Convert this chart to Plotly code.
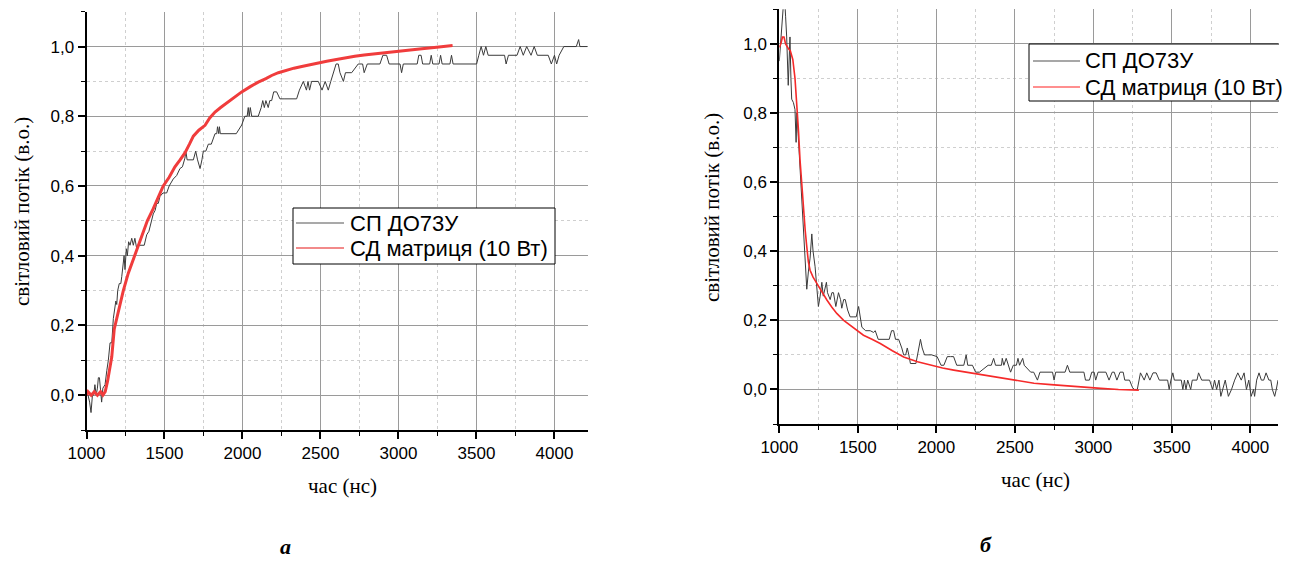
import plotly.graph_objects as go

# ---------------- data ----------------
# panel а : rise
a_sp_x = [1000,1010,1020,1029,1038,1046,1054,1062,1070,1076,1083,1090,1097,1105,1119,1130,1140,1151,1162,1172,1180,1188,1194,1200,1210,1220,1226,1235,1241,1247,1255,1262,1270,1279,1290,1300,1310,1322,1340,1370,1386,1400,1415,1428,1440,1450,1460,1471,1490,1514,1530,1556,1578,1599,1615,1631,1637,1645,1685,1700,1712,1728,1740,1749,1765,1781,1800,1824,1835,1840,1848,1852,1858,1888,1920,1960,1995,2015,2030,2037,2043,2050,2059,2101,2120,2130,2140,2150,2165,2175,2187,2200,2219,2240,2272,2347,2365,2390,2410,2420,2430,2443,2486,2510,2530,2550,2566,2582,2600,2614,2625,2647,2660,2700,2742,2770,2780,2800,2881,2900,2924,2940,3010,3020,3031,3120,3130,3145,3155,3200,3210,3220,3260,3270,3280,3330,3340,3350,3501,3515,3530,3545,3560,3575,3630,3680,3690,3705,3760,3780,3800,3822,3850,3870,3890,3960,3980,4000,4014,4030,4060,4140,4155,4163,4210]
a_sp_y = [0.00,0.00,-0.02,-0.05,0.00,0.00,0.03,0.00,0.02,0.05,0.05,0.00,-0.02,0.02,0.03,0.07,0.10,0.15,0.15,0.22,0.25,0.27,0.26,0.30,0.32,0.32,0.34,0.37,0.40,0.36,0.42,0.40,0.44,0.43,0.45,0.43,0.45,0.42,0.43,0.43,0.46,0.47,0.50,0.52,0.53,0.55,0.55,0.57,0.58,0.58,0.60,0.62,0.63,0.65,0.655,0.68,0.70,0.675,0.675,0.70,0.675,0.65,0.675,0.70,0.70,0.72,0.72,0.75,0.75,0.77,0.75,0.77,0.75,0.75,0.75,0.75,0.775,0.80,0.80,0.825,0.80,0.825,0.80,0.80,0.825,0.845,0.825,0.845,0.825,0.845,0.845,0.87,0.87,0.85,0.85,0.85,0.875,0.90,0.875,0.90,0.875,0.90,0.90,0.875,0.90,0.875,0.90,0.925,0.95,0.95,0.925,0.90,0.925,0.925,0.95,0.95,0.925,0.95,0.95,0.975,0.975,0.95,0.95,0.925,0.95,0.95,0.975,0.975,0.95,0.95,0.975,0.95,0.95,0.975,0.95,0.95,0.975,0.95,0.95,0.975,1.00,0.975,1.00,0.975,0.975,0.975,0.95,0.975,0.975,1.00,0.975,1.00,0.975,1.00,0.975,0.975,0.95,0.975,0.95,0.975,1.00,1.00,1.02,1.00,1.00]

a_sd_x = [1000,1010,1030,1050,1070,1090,1105,1120,1135,1150,1162,1178,1194,1215,1236,1268,1300,1340,1390,1428,1460,1492,1530,1567,1600,1631,1660,1685,1720,1760,1790,1824,1860,1909,1950,1995,2050,2101,2150,2187,2230,2272,2330,2380,2430,2486,2540,2593,2657,2720,2780,2838,2900,2960,3053,3150,3245,3347]
a_sd_y = [0.0,0.01,0.0,0.01,0.0,0.01,0.0,0.01,0.04,0.08,0.11,0.19,0.22,0.26,0.30,0.35,0.39,0.44,0.50,0.535,0.565,0.60,0.625,0.655,0.675,0.695,0.72,0.743,0.76,0.774,0.795,0.812,0.825,0.841,0.856,0.87,0.885,0.898,0.908,0.917,0.925,0.931,0.938,0.943,0.948,0.953,0.958,0.962,0.968,0.972,0.976,0.979,0.983,0.986,0.99,0.994,0.998,1.003]

# panel б : decay
b_sp_x = [1000,1008,1015,1025,1032,1040,1047,1057,1063,1068,1074,1079,1090,1100,1107,1112,1120,1132,1143,1153,1165,1175,1185,1196,1207,1215,1228,1240,1249,1260,1271,1280,1292,1300,1307,1324,1335,1345,1360,1377,1390,1398,1410,1420,1435,1451,1470,1490,1505,1515,1526,1550,1579,1600,1611,1630,1660,1700,1715,1728,1740,1760,1780,1792,1805,1815,1825,1835,1870,1890,1899,1910,1925,1941,1970,2005,2030,2048,2070,2090,2110,2130,2160,2175,2190,2200,2230,2250,2275,2300,2330,2350,2365,2377,2400,2415,2420,2430,2445,2460,2473,2490,2510,2520,2530,2550,2560,2601,2620,2644,2660,2740,2750,2760,2820,2835,2850,2940,2950,2975,2990,3005,3015,3030,3060,3080,3100,3120,3133,3150,3170,3190,3200,3230,3250,3261,3280,3300,3324,3340,3360,3380,3400,3420,3473,3483,3494,3506,3516,3560,3570,3580,3590,3601,3620,3630,3660,3670,3690,3740,3760,3772,3785,3800,3812,3825,3840,3860,3880,3900,3920,3942,3960,3975,3990,4005,4020,4027,4040,4055,4070,4085,4100,4118,4130,4140,4155,4165,4176]
b_sp_y = [0.95,1.00,1.03,1.10,1.15,1.08,1.02,0.88,0.95,1.02,0.90,0.84,0.83,0.81,0.715,0.80,0.74,0.645,0.55,0.45,0.36,0.29,0.34,0.38,0.45,0.40,0.355,0.28,0.24,0.27,0.31,0.27,0.29,0.31,0.28,0.26,0.28,0.28,0.24,0.28,0.26,0.235,0.26,0.26,0.23,0.21,0.21,0.21,0.24,0.21,0.18,0.17,0.17,0.165,0.17,0.145,0.145,0.145,0.17,0.17,0.145,0.145,0.12,0.10,0.10,0.12,0.10,0.075,0.075,0.12,0.145,0.12,0.10,0.10,0.10,0.095,0.07,0.07,0.095,0.095,0.095,0.07,0.07,0.07,0.10,0.07,0.07,0.05,0.05,0.06,0.07,0.07,0.09,0.07,0.07,0.07,0.09,0.07,0.09,0.07,0.05,0.07,0.07,0.09,0.07,0.09,0.07,0.05,0.05,0.027,0.05,0.05,0.027,0.05,0.05,0.07,0.05,0.05,0.027,0.027,0.05,0.05,0.027,0.05,0.05,0.05,0.027,0.05,0.05,0.027,0.05,0.05,0.027,0.027,0.005,0.0,0.0,0.048,0.027,0.048,0.027,0.048,0.048,0.027,0.027,0.0,0.027,0.048,0.027,0.027,0.0,0.027,0.0,0.027,0.0,0.027,0.027,0.048,0.027,0.027,0.0,0.027,0.0,0.027,-0.02,0.0,0.027,-0.02,0.0,0.027,0.048,0.027,0.048,0.0,0.027,-0.02,0.0,-0.02,0.027,0.048,0.027,0.027,0.048,0.027,0.027,0.0,-0.02,0.0,0.027]

b_sd_x = [1000,1010,1020,1030,1040,1050,1060,1070,1086,1100,1111,1122,1132,1143,1153,1165,1175,1185,1196,1215,1239,1270,1303,1335,1366,1410,1451,1495,1536,1590,1643,1720,1792,1880,1962,2040,2111,2220,2324,2420,2526,2622,2730,2835,2940,3048,3160,3290]
b_sd_y = [0.99,1.00,1.02,1.02,1.00,0.99,0.985,0.98,0.955,0.90,0.838,0.75,0.664,0.59,0.529,0.46,0.413,0.37,0.345,0.325,0.307,0.282,0.259,0.238,0.22,0.20,0.186,0.17,0.157,0.145,0.133,0.112,0.094,0.08,0.07,0.062,0.056,0.048,0.041,0.033,0.027,0.018,0.014,0.01,0.006,0.003,0.0,-0.002]

series_names = ["СП ДО73У", "СД матриця (10 Вт)"]
x_tick_vals = [1000, 1500, 2000, 2500, 3000, 3500, 4000]
x_tick_text = ["1000", "1500", "2000", "2500", "3000", "3500", "4000"]
y_tick_vals = [0.0, 0.2, 0.4, 0.6, 0.8, 1.0]
y_tick_text = ["0,0", "0,2", "0,4", "0,6", "0,8", "1,0"]
x_title = "час (нс)"
y_title = "світловий потік (в.о.)"
panel_labels = ["а", "б"]

# ---------------- figure ----------------
# The page body has an 8 px margin, so the figure is drawn 8 px smaller
# and every reference pixel position is shifted by that offset.
OFF = 8
W, H = 1293 - OFF, 561 - OFF

def px_x(p):
    return (p - OFF) / W

def px_y(p):
    return (H - (p - OFF)) / H

BLACK_LINE = "#3a3a3a"
RED_A = "#f03c3c"
RED_B = "#f52a2a"

fig = go.Figure()
fig.add_trace(go.Scatter(x=a_sp_x, y=a_sp_y, mode="lines", name=series_names[0], showlegend=False,
                         line=dict(color=BLACK_LINE, width=1), xaxis="x", yaxis="y"))
fig.add_trace(go.Scatter(x=a_sd_x, y=a_sd_y, mode="lines", name=series_names[1], showlegend=False,
                         line=dict(color=RED_A, width=3), xaxis="x", yaxis="y"))
fig.add_trace(go.Scatter(x=b_sp_x, y=b_sp_y, mode="lines", name=series_names[0], showlegend=False,
                         line=dict(color=BLACK_LINE, width=1), xaxis="x2", yaxis="y2"))
fig.add_trace(go.Scatter(x=b_sd_x, y=b_sd_y, mode="lines", name=series_names[1], showlegend=False,
                         line=dict(color=RED_B, width=1.6), xaxis="x2", yaxis="y2"))

tick_font = dict(family="Liberation Sans, Arial", size=17, color="black")

def xaxis(domain, rng, anchor):
    return dict(domain=domain, range=rng, anchor=anchor, automargin=False,
                tickvals=x_tick_vals, ticktext=x_tick_text, tickfont=tick_font,
                showline=True, linecolor="black", linewidth=2,
                ticks="outside", ticklen=7, tickwidth=1.5, tickcolor="black",
                showgrid=True, gridcolor="#9a9a9a", gridwidth=1, zeroline=False,
                minor=dict(dtick=250, tick0=1000, ticks="outside", ticklen=4, tickwidth=1.2,
                           tickcolor="black", showgrid=True, gridcolor="#cfcfcf",
                           griddash="dot", gridwidth=1))

def yaxis(domain, anchor):
    return dict(domain=domain, range=[-0.1, 1.1], anchor=anchor, automargin=False,
                tickvals=y_tick_vals, ticktext=y_tick_text, tickfont=tick_font,
                showline=True, linecolor="black", linewidth=2,
                ticks="outside", ticklen=7, tickwidth=1.5, tickcolor="black",
                showgrid=True, gridcolor="#9a9a9a", gridwidth=1, zeroline=False,
                minor=dict(dtick=0.1, tick0=0.0, ticks="outside", ticklen=4, tickwidth=1.2,
                           tickcolor="black", showgrid=True, gridcolor="#cfcfcf",
                           griddash="dot", gridwidth=1))

# reference pixel geometry of the two plot areas
L = dict(x0=86.5, x1=588, y0=11.7, y1=430)
R = dict(x0=779.3, x1=1278, y0=9.3, y1=424)

def xd(p):
    return [px_x(p["x0"]), px_x(p["x1"])]

def yd(p):
    return [px_y(p["y1"]), px_y(p["y0"])]

fig.update_layout(
    width=W, height=H, margin=dict(l=0, r=0, t=0, b=0, pad=0, autoexpand=False),
    paper_bgcolor="white", plot_bgcolor="white", showlegend=False,
    xaxis=xaxis(xd(L), [1000, 4215], "y"),
    yaxis=yaxis(yd(L), "x"),
    xaxis2=xaxis(xd(R), [1000, 4176], "y2"),
    yaxis2=yaxis(yd(R), "x2"),
)

# ---- legends drawn as boxes, sample lines and text ----
shapes = []
anns = []
leg_font = dict(family="Liberation Sans, Arial", size=22, color="black")

def pline(x0, y0, x1, y1, color, width):
    shapes.append(dict(type="line", xref="paper", yref="paper",
                       x0=px_x(x0), y0=px_y(y0), x1=px_x(x1), y1=px_y(y1),
                       line=dict(color=color, width=width)))

def prect(x0, y0, x1, y1, fill, line_w):
    shapes.append(dict(type="rect", xref="paper", yref="paper",
                       x0=px_x(x0), y0=px_y(y0), x1=px_x(x1), y1=px_y(y1),
                       fillcolor=fill, line=dict(color="black", width=line_w)))

def ptext(x, y, text):
    anns.append(dict(x=px_x(x), y=px_y(y), text=text, font=leg_font,
                     xanchor="left", yanchor="middle"))

# legend of panel а
prect(293, 208, 555, 264, "white", 1)
pline(296, 223, 344, 223, "#555555", 1.2)
pline(296, 248, 344, 248, "#f28a8a", 2)
ptext(348, 223, series_names[0])
ptext(348, 248, series_names[1])
# legend of panel б (its right side is cut by the plot area)
prect(1029, 44, 1279, 101, "white", 0)
pline(1029, 44, 1279, 44, "black", 1)
pline(1029, 101, 1279, 101, "black", 1)
pline(1029, 44, 1029, 101, "black", 1)
pline(1033, 61, 1080, 61, "#8a8a8a", 1.5)
pline(1033, 87, 1080, 87, "#ff2020", 1.2)
ptext(1083, 61, series_names[0])
ptext(1083, 87, series_names[1])

title_font = dict(family="Liberation Serif, Times New Roman", size=21, color="black")
label_font = dict(family="Liberation Serif, Times New Roman", size=22, color="black")
anns += [
    dict(x=px_x(22), y=px_y(212), text=y_title, textangle=-90, font=title_font,
         xanchor="center", yanchor="middle"),
    dict(x=px_x(712), y=px_y(208), text=y_title, textangle=-90, font=title_font,
         xanchor="center", yanchor="middle"),
    dict(x=px_x(342), y=px_y(486), text=x_title, font=title_font,
         xanchor="center", yanchor="middle"),
    dict(x=px_x(1035), y=px_y(480), text=x_title, font=title_font,
         xanchor="center", yanchor="middle"),
    dict(x=px_x(285), y=px_y(546), text="<b><i>" + panel_labels[0] + "</i></b>", font=label_font,
         xanchor="center", yanchor="middle"),
    dict(x=px_x(986), y=px_y(544), text="<b><i>" + panel_labels[1] + "</i></b>", font=label_font,
         xanchor="center", yanchor="middle"),
]
for a in anns:
    a.update(xref="paper", yref="paper", showarrow=False)
fig.update_layout(annotations=anns, shapes=shapes)

fig.write_html("out.html")
